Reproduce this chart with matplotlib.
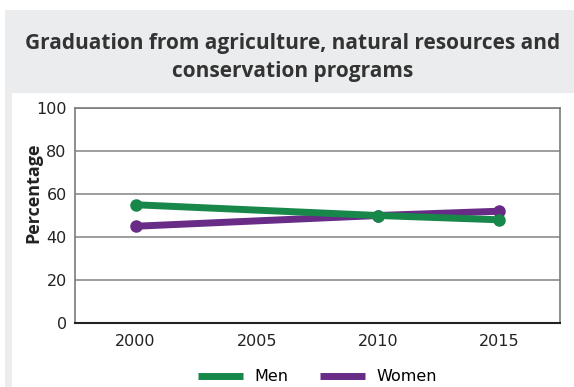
import matplotlib.pyplot as plt
from matplotlib.patches import Rectangle

years = [2000, 2010, 2015]
men = [55, 50, 48]
women = [45, 50, 52]
xticks = [2000, 2005, 2010, 2015]
yticks = [0, 20, 40, 60, 80, 100]

green = "#17874a"
purple = "#682b86"
panel = "#ebeced"

W, H = 574, 387
fig = plt.figure(figsize=(W / 100, H / 100), dpi=100)

# gray panel with white plot area behind the axes
fig.patches.append(Rectangle((5 / W, 0), 1, 1 - 10 / H, transform=fig.transFigure,
                             facecolor=panel, edgecolor="none", zorder=-10))
fig.patches.append(Rectangle((12 / W, 0), 1, 1 - 93 / H, transform=fig.transFigure,
                             facecolor="white", edgecolor="none", zorder=-9))

title_font = ["Open Sans", "DejaVu Sans"]
fig.text(293 / W, 1 - 43 / H, "Graduation from agriculture, natural resources and",
         ha="center", va="center", fontsize=15, fontweight="bold",
         color="#333333", family=title_font)
fig.text(293 / W, 1 - 71 / H, "conservation programs",
         ha="center", va="center", fontsize=15, fontweight="bold",
         color="#333333", family=title_font)

ax = fig.add_axes([75 / W, 1 - 323 / H, (560 - 75) / W, (323 - 108) / H])
ax.set_facecolor("none")

ax.plot(years, men, color=green, lw=5, marker="o", ms=8, solid_capstyle="round", label="Men", zorder=3)
ax.plot(years, women, color=purple, lw=5, marker="o", ms=8, solid_capstyle="round", label="Women", zorder=2)

ax.set_xlim(1997.5, 2017.5)
ax.set_ylim(0, 100)
ax.set_xticks(xticks)
ax.set_yticks(yticks)
ax.grid(axis="y", color="#8c8c8c", lw=1.2)
ax.set_axisbelow(True)

tick_font = ["Liberation Sans Narrow", "DejaVu Sans"]
for lab in ax.get_xticklabels() + ax.get_yticklabels():
    lab.set_family(tick_font)
    lab.set_fontsize(11.5)
    lab.set_color("#222222")
ax.tick_params(length=0, pad=8)
ax.tick_params(axis="y", pad=6)

for s in ["left", "right", "top"]:
    ax.spines[s].set_color("#7a7a7a")
    ax.spines[s].set_linewidth(1.2)
ax.spines["bottom"].set_color("#222222")
ax.spines["bottom"].set_linewidth(1.5)

ax.set_ylabel("Percentage", fontsize=13, fontweight="bold", color="#222222",
              family=title_font, va="center")
ax.yaxis.set_label_coords((33 - 75) / 485, 0.605)

leg = ax.legend(loc="center", bbox_to_anchor=(0.5, -0.25), ncol=2, frameon=False,
                handlelength=2.8, handletextpad=0.7, columnspacing=2.0,
                prop={"family": tick_font, "size": 11.5})
for line in leg.get_lines():
    line.set_linewidth(5)
    line.set_marker("")
    line.set_solid_capstyle("butt")

fig.savefig("out.png", dpi=100)
